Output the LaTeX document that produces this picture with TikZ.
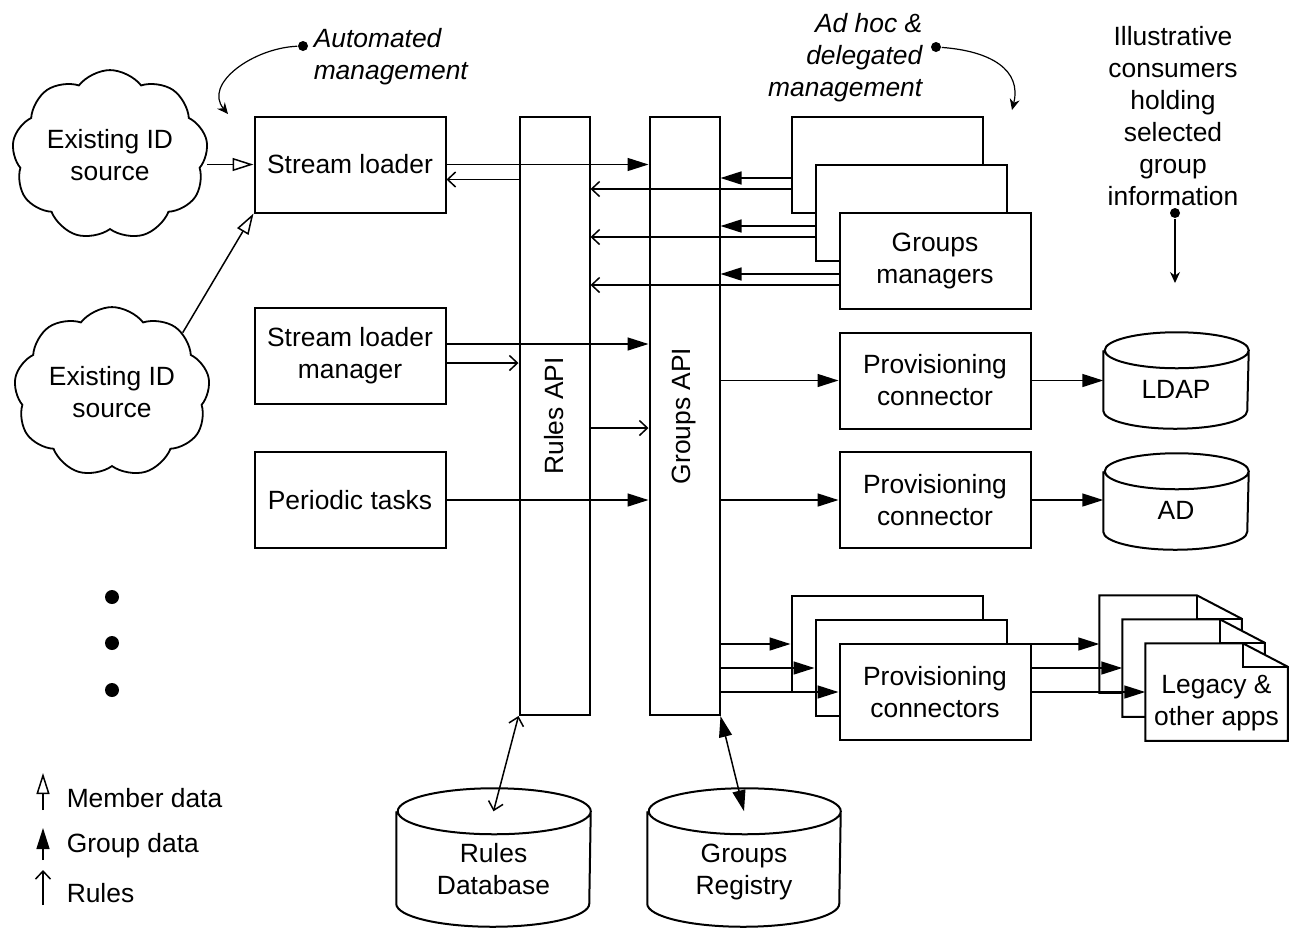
\documentclass[tikz,border=0pt]{standalone}
\usepackage{fontspec}
\setmainfont{Liberation Sans}
\usetikzlibrary{positioning, arrows.meta, shapes.symbols}
\tikzset{gd/.tip={Triangle[length=10.5pt,width=6.5pt]},
         md/.tip={Triangle[open,length=10.5pt,width=6.5pt]},
         rb/.tip={Straight Barb[length=4pt,width=7.5pt]},
         mg/.tip={Stealth[length=5.5pt,width=5pt]}}
\newcommand{\dbdrum}[3]{\draw[line width=1pt] (#1.north west) -- ([yshift=#3]#1.south west)
    arc[start angle=180, end angle=360, x radius=#2, y radius=#3]
    -- (#1.north east) arc[start angle=0, end angle=360, x radius=#2, y radius=#3];}
\newcommand{\appsheet}[1]{\draw[fill=white, line width=1pt] (#1.south west) -- (#1.north west)
    -- ([xshift=-22.5pt]#1.north east) -- ([yshift=-11.75pt]#1.north east) -- (#1.south east) -- cycle;
    \draw[line width=1pt] ([xshift=-22.5pt]#1.north east) |- ([yshift=-11.75pt]#1.north east);}

\begin{document}
\fontsize{13.2}{16}\selectfont
\begin{tikzpicture}[x=0.5pt, y=-0.5pt, line width=0.75pt,
    box/.style={draw, fill=white, line width=1pt, align=center, minimum width=95.5pt, minimum height=48pt, inner sep=0pt},
    api/.style={draw, line width=1pt, minimum width=35pt, minimum height=299pt, inner sep=0pt},
    src/.style={draw, cloud, cloud puffs=9, cloud puff arc=105, aspect=1.2, line width=0.9pt, align=center, inner sep=0pt, minimum width=98pt, minimum height=82pt},
    drum/.style={minimum width=#1, minimum height=38.5pt, inner sep=0pt, align=center},
    doc/.style={minimum width=70.5pt, minimum height=48pt, inner sep=0pt},
    note/.style={font=\itshape, inner sep=0pt},
    dot/.style={circle, fill, inner sep=0pt, minimum size=5pt},
    grp/.style={-gd}, grpb/.style={gd-gd}, rul/.style={-rb}, rulb/.style={rb-rb},
    mem/.style={-md}, mgmt/.style={-mg, line width=0.6pt}]
  \useasboundingbox (0,0) rectangle (1290,928);

  \node[src] (ids1) at (110,155) {Existing ID\\source};
  \node[src] (ids2) at (112,392) {Existing ID\\source};
  \foreach \y in {597,643,690} \node[dot, minimum size=7pt] (more\y) at (112,\y) {};

  \node[box] (sl) at (350,164.5) {Stream loader};
  \node[box] (slm) at (350,355.5) {Stream loader\\manager};
  \node[box] (pt) at (350,500) {Periodic tasks};
  \node[api, label={[rotate=90]center:Rules API}] (rapi) at (554.5,416) {};
  \node[api, label={[rotate=90]center:Groups API}] (gapi) at (684.5,416) {};

  \node[box] (gm3) at (887,165) {};
  \node[box] (gm2) at ([shift={(24,48)}]gm3) {};
  \node[box] (gm1) at ([shift={(24,48)}]gm2) {Groups\\managers};
  \node[box] (pc1) at (935,380.5) {Provisioning\\connector};
  \node[box] (pc2) at (935,500) {Provisioning\\connector};
  \node[box] (pcs3) at (887,644) {};
  \node[box] (pcs2) at ([shift={(24,24)}]pcs3) {};
  \node[box] (pcs1) at ([shift={(24,24)}]pcs2) {Provisioning\\connectors};

  \node[drum=72pt] (ldap) at (1176,389.5) {LDAP};
  \dbdrum{ldap}{36pt}{9pt}
  \node[drum=72pt] (ad) at (1176,510.5) {AD};
  \dbdrum{ad}{36pt}{9pt}
  \node[drum=96.5pt, minimum height=57pt] (rdb) at (493.5,869) {Rules\\Database};
  \dbdrum{rdb}{48.25pt}{11.5pt}
  \node[drum=96pt, minimum height=57pt] (grg) at (744,869) {Groups\\\raisebox{0pt}[\height][0pt]{Registry}};
  \dbdrum{grg}{48pt}{11.5pt}

  \node[doc] (app3) at (1170.5,644) {};
  \appsheet{app3}
  \node[doc] (app2) at ([shift={(23,24)}]app3) {};
  \appsheet{app2}
  \node[doc] (app1) at ([shift={(23,24)}]app2) {};
  \appsheet{app1}
  \node[align=center] (apptxt) at ([yshift=-5.5pt]app1) {Legacy \&\\other apps};

  \draw[mem] (ids1.east |- sl.west) -- (sl.west);
  \draw[mem] (ids2.40) -- (sl.south west);
  \draw[grp] (sl.east) -- (sl.east -| gapi.west);
  \draw[rul] ([yshift=-7.5pt]sl.east -| rapi.west) -- ([yshift=-7.5pt]sl.east);
  \draw[grp] ([yshift=5.75pt]slm.east) -- ([yshift=5.75pt]slm.east -| gapi.west);
  \draw[rul] ([yshift=-3.75pt]slm.east) -- ([yshift=-3.75pt]slm.east -| rapi.west);
  \draw[rul] ([yshift=-6pt]rapi.east) -- ([yshift=-6pt]rapi.east -| gapi.west);
  \draw[grp] (pt.east) -- (pt.east -| gapi.west);
  \foreach \g in {gm1,gm2,gm3}{
    \draw[grp] ([yshift=-6.5pt]\g.west) -- ([yshift=-6.5pt]\g.west -| gapi.east);
    \draw[rul] ([yshift=-12pt]\g.west) -- ([yshift=-12pt]\g.west -| rapi.east);}
  \foreach \p in {pc1,pc2} \draw[grp] (gapi.east |- \p.west) -- (\p.west);
  \draw[grp] (pc1.east) -- (pc1.east -| ldap.west);
  \draw[grp] (pc2.east) -- (pc2.east -| ad.west);
  \foreach \k in {1,2,3}{
    \draw[grp] (gapi.east |- pcs\k.west) -- (pcs\k.west);
    \draw[grp] (pcs1.east |- app\k.west) -- (app\k.west);}
  \draw[rulb] (rapi.south west) -- (rdb.north);
  \draw[grpb] (gapi.south east) -- (grg.north);

  \node[note, anchor=west, align=left] (auto) at (313,57) {Automated\\management};
  \node[dot] (autodot) at (303,46) {};
  \coordinate (autotip) at (228,114);
  \draw[mgmt] (autodot) .. controls +(-50,2) and +(-25,-30) .. (autotip);
  \node[note, anchor=east, align=right] (adhoc) at (923,58) {Ad hoc \&\\delegated\\management};
  \node[dot] (adhocdot) at (936,47) {};
  \coordinate (adhoctip) at (1012,110);
  \draw[mgmt] (adhocdot) .. controls +(55,4) and +(10,-40) .. (adhoctip);
  \node[align=center] (cons) at (1173,116.5) {Illustrative\\consumers\\holding\\selected\\group\\information};
  \node[dot] (consdot) at (1175,213) {};
  \coordinate (constip) at (1175,283);
  \draw[mgmt] (consdot) -- (constip);

  \node[anchor=west, inner sep=0pt] (lgmem) at (66,798) {Member data};
  \node[anchor=west, inner sep=0pt] (lggrp) at (66,846) {Group data};
  \node[anchor=west, inner sep=0pt] (lgrul) at (66,893) {Rules};
  \draw[mem] ([xshift=-11.5pt,yshift=-6pt]lgmem.west) -- ++(0,-37);
  \draw[grp] ([xshift=-11.5pt,yshift=-7pt]lggrp.west) -- ++(0,-32);
  \draw[rul] ([xshift=-11.5pt,yshift=-6pt]lgrul.west) -- ++(0,-35);
\end{tikzpicture}
\end{document}
